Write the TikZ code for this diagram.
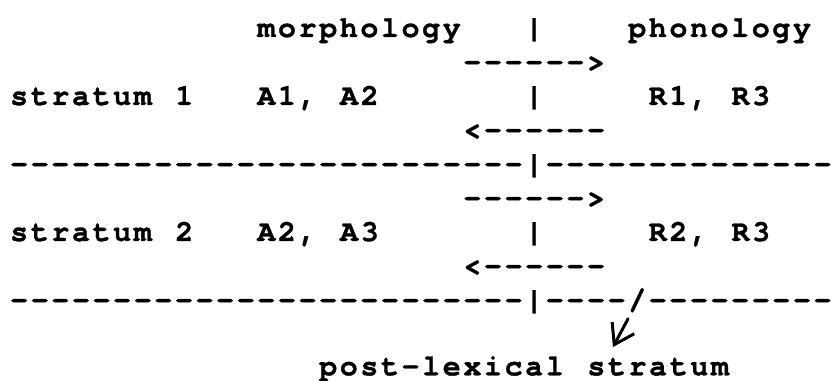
\documentclass[tikz,border=0pt]{standalone}
\usepackage{fontspec}
\usetikzlibrary{arrows.meta}
\newfontfamily\twfont[Ligatures=TeXOff, LetterSpace=8.67, WordSpace=1.144, FakeBold=1]{texgyrecursor-bold.otf}

\begin{document}
\begin{tikzpicture}[x=20.6pt, y=-34pt,
        tw/.style={anchor=base west, inner sep=0pt,
            font=\twfont\fontsize{30pt}{34pt}\selectfont},
        pen/.style={line width=3pt, line cap=round, line join=round}]
            \useasboundingbox (-0.4854,-1.088) rectangle (40.049,10.118);

            \node[tw] (morph) at (12,0) {morphology};
            \node[tw] (bar0) at (25,0) {|};
            \node[tw] (phon) at (30,0) {phonology};

            \node[tw] (right1) at (22,1) {------>};
            \node[tw] (strat1) at (0,2) {stratum 1};
            \node[tw] (morph1) at (12,2) {A1, A2};
            \node[tw] (bar2) at (25,2) {|};
            \node[tw] (phon1) at (31,2) {R1, R3};
            \node[tw] (left1) at (22,3) {<------};
            \node[tw] (line1) at (0,4) {-------------------------|--------------};

            \node[tw] (right2) at (22,5) {------>};
            \node[tw] (strat2) at (0,6) {stratum 2};
            \node[tw] (morph2) at (12,6) {A2, A3};
            \node[tw] (bar6) at (25,6) {|};
            \node[tw] (phon2) at (31,6) {R2, R3};
            \node[tw] (left2) at (22,7) {<------};
            \node[tw] (line2) at (0,8) {-------------------------|----/---------};

            \node[tw] (post) at (15,9.95) {post-lexical stratum};

            \coordinate (slashfoot) at (30.0,8.29);
            \coordinate (tip) at (29.27,9.12);
            \draw [pen, -{Straight Barb[length=19pt, width=25pt, line width=3pt]}]
                (slashfoot) -- (tip);

        \end{tikzpicture}
\end{document}
